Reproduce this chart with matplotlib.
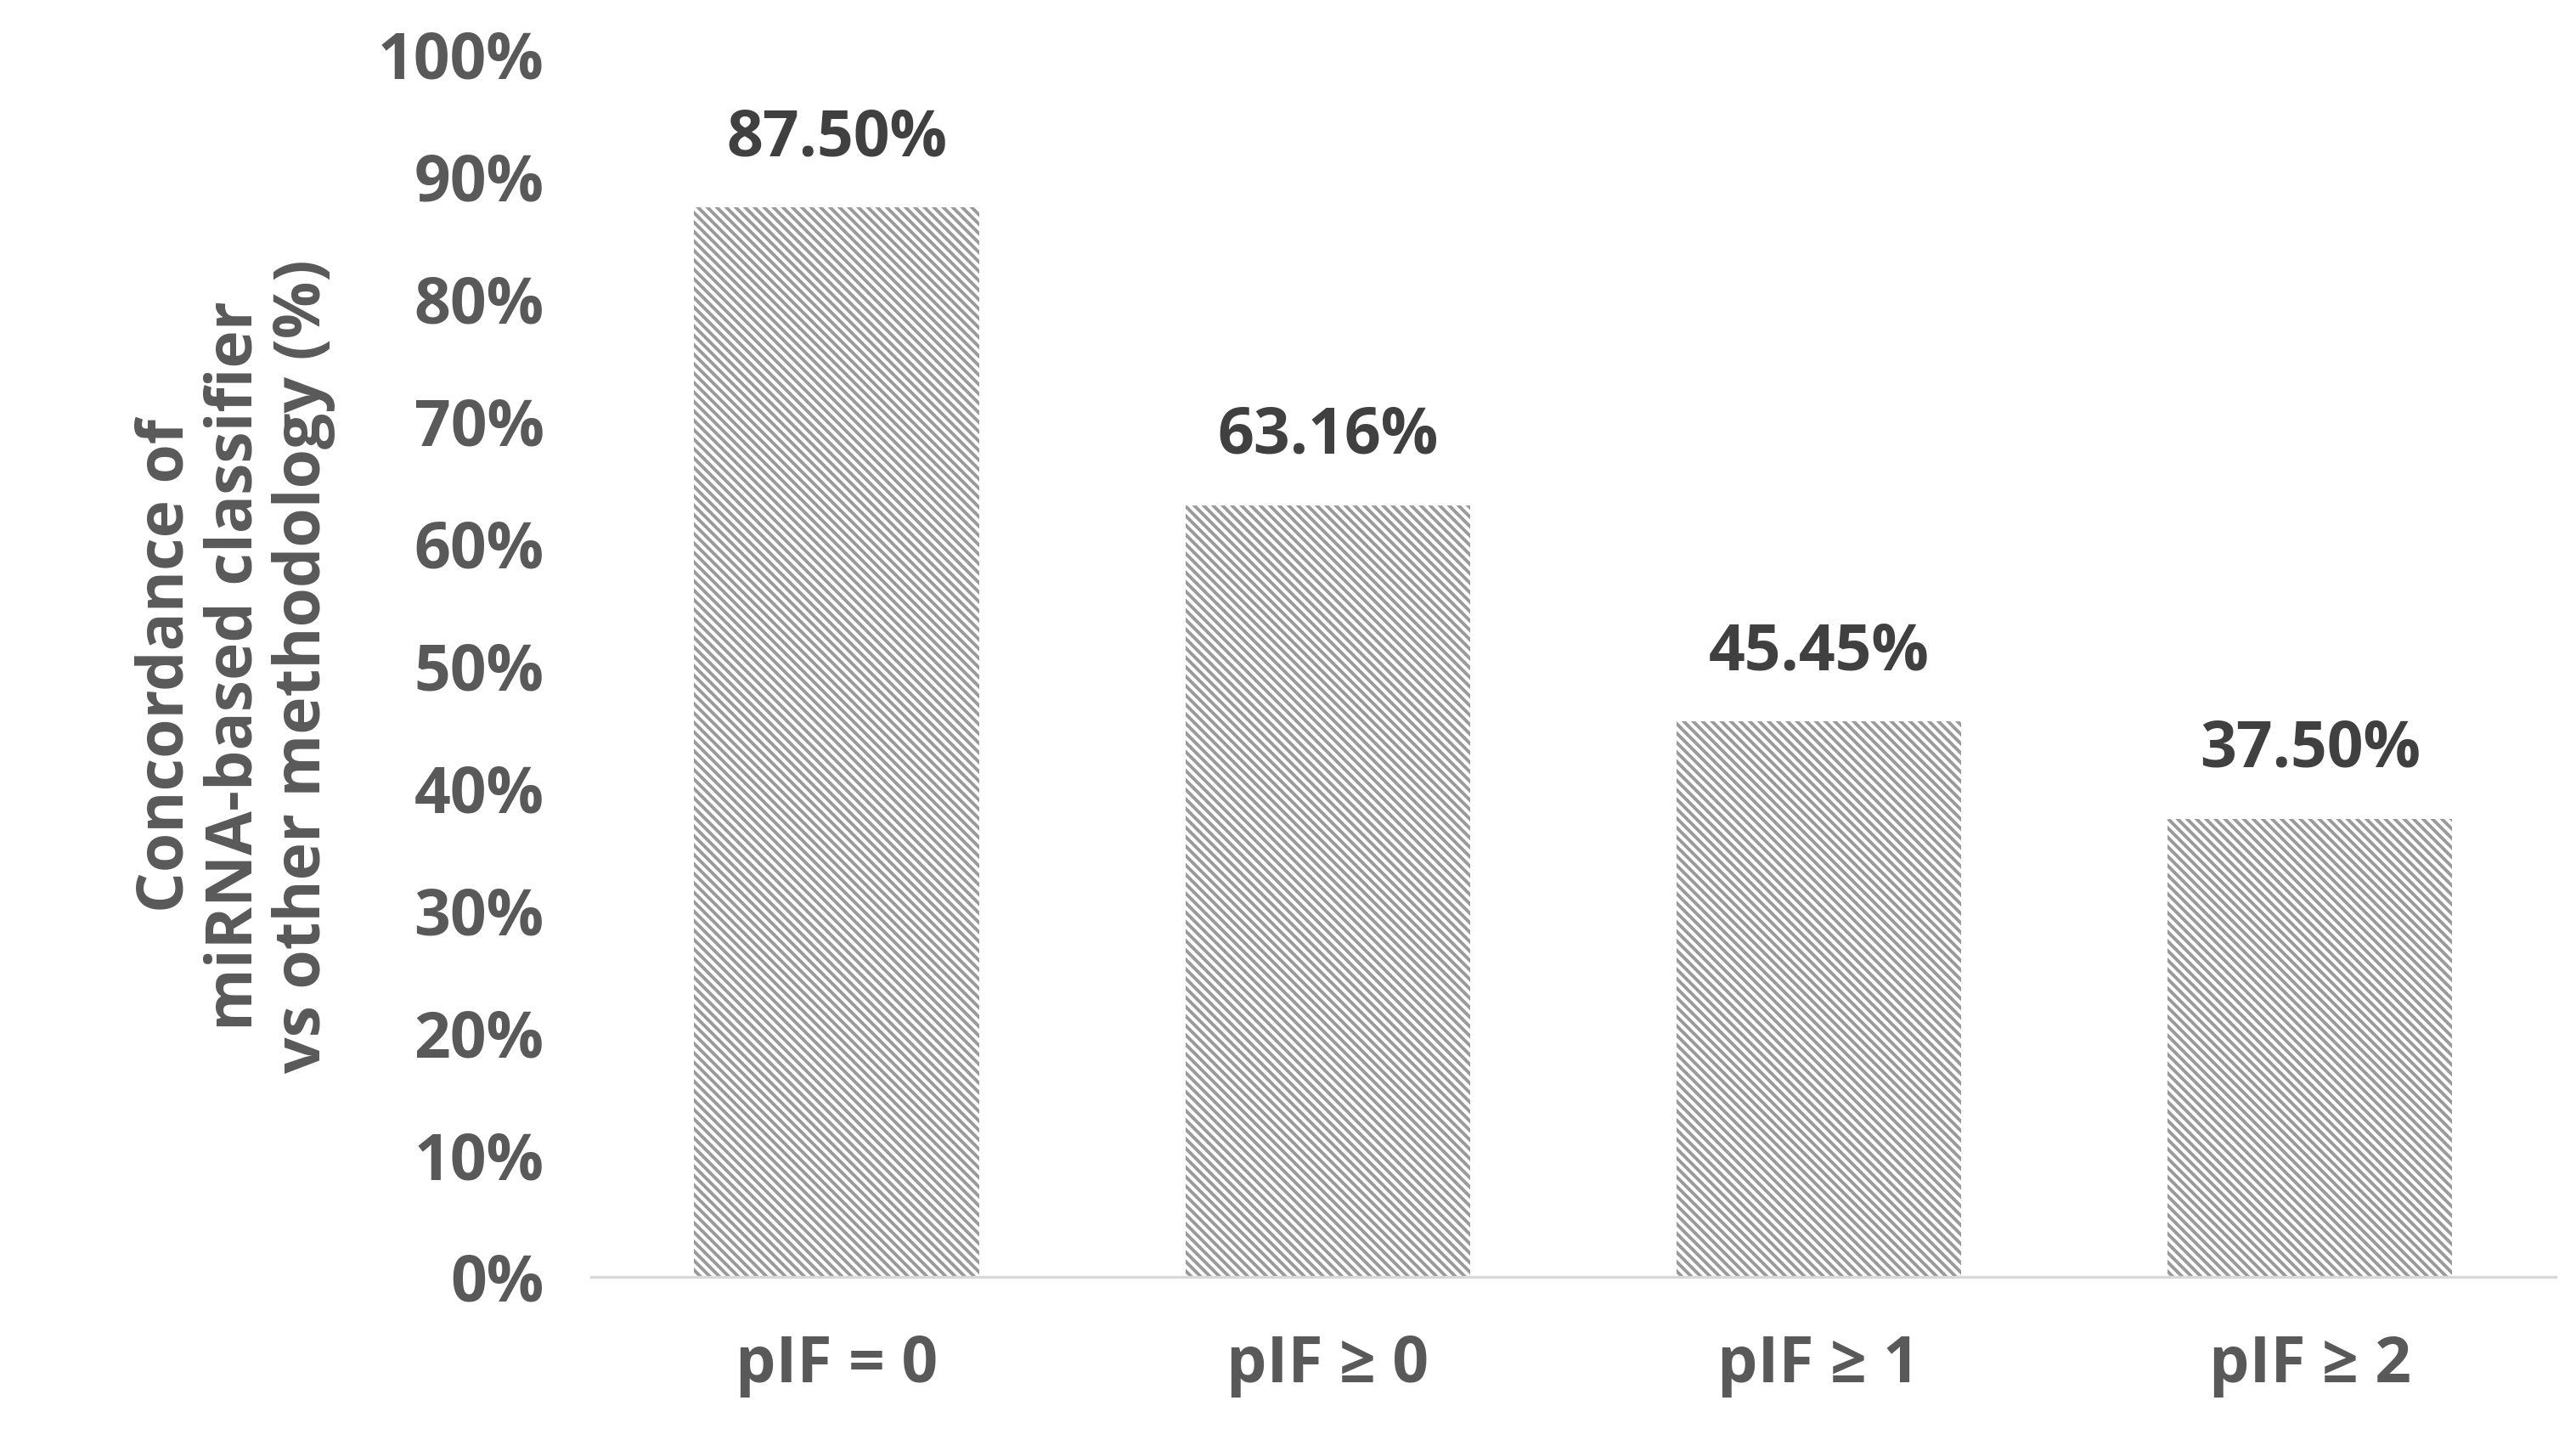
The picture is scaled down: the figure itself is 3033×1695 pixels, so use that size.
import matplotlib.pyplot as plt
from matplotlib.ticker import PercentFormatter

categories = ['pIF = 0', 'pIF \u2265 0', 'pIF \u2265 1', 'pIF \u2265 2']
concordance = [87.50, 63.16, 45.45, 37.50]

plt.rcParams['font.family'] = ['Open Sans', 'DejaVu Sans']
plt.rcParams['hatch.linewidth'] = 1.4
plt.rcParams['hatch.color'] = '#6a6a6a'

fig = plt.figure(figsize=(15.165, 8.475), dpi=200)
ax = fig.add_axes([0.2295, 0.113, 0.7625, 0.849])

x = range(len(categories))
ax.bar(x, concordance, width=0.58, color='white', edgecolor='#9a9a9a',
       linewidth=0.0, hatch='\\\\\\\\\\\\')
for i, v in zip(x, concordance):
    ax.text(i, v + 3, f'{v:.2f}%', ha='center', va='bottom',
            fontsize=27, fontweight='bold', color='#404040')

ax.set_xlim(-0.5, 3.5)
ax.set_ylim(0, 100)
ax.set_yticks(range(0, 101, 10))
ax.yaxis.set_major_formatter(PercentFormatter(decimals=0))
ax.set_xticks(list(x))
ax.set_xticklabels(categories)
ax.tick_params(axis='both', length=0, labelsize=27, labelcolor='#595959')
ax.tick_params(axis='x', pad=24)
ax.tick_params(axis='y', pad=20)
for lab in ax.get_xticklabels() + ax.get_yticklabels():
    lab.set_fontweight('bold')
for s in ['top', 'right', 'left']:
    ax.spines[s].set_visible(False)
ax.spines['bottom'].set_color('#d9d9d9')
ax.spines['bottom'].set_linewidth(1.2)

ax.set_ylabel('Concordance of\nmiRNA-based classifier\nvs other methodology (%)',
              fontsize=27, fontweight='bold', color='#595959',
              linespacing=1.1, labelpad=18)

fig.savefig('out.png', dpi=200)
